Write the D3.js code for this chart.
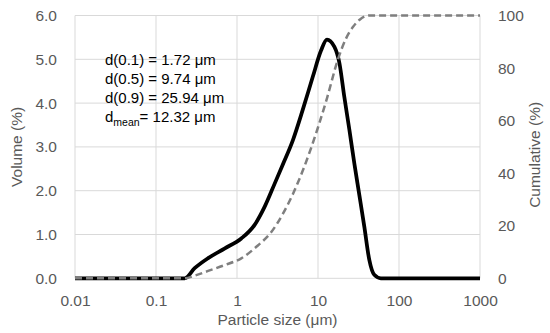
<!DOCTYPE html>
<html><head><meta charset="utf-8">
<script src="https://cdn.jsdelivr.net/npm/d3@7"></script>
<style>html,body{margin:0;padding:0;background:#fff;}svg{display:block;}</style>
</head><body>
<script>
// Particle size (µm) and volume (%)
const volSizes = [0.01, 0.226, 0.30, 0.44, 0.70, 1.13, 1.65, 2.19, 2.9, 3.68, 4.89, 6.49, 8.62, 10.9, 12.9, 15.9, 18.4, 21.1, 24.4, 28.1, 32.4, 37.3, 43.0, 49.5, 59.8, 1000];
const volValues = [0, 0, 0.23, 0.46, 0.68, 0.91, 1.22, 1.63, 2.15, 2.6, 3.15, 3.85, 4.6, 5.2, 5.45, 5.29, 4.91, 4.15, 3.39, 2.62, 1.9, 1.18, 0.42, 0.08, 0, 0];
// Particle size (µm) and cumulative (%)
const cumSizes = [0.01, 0.226, 0.30, 0.44, 0.70, 1.13, 1.81, 2.64, 3.68, 4.89, 6.49, 9.9, 12.9, 17.5, 22.0, 26.8, 33.0, 43.0, 1000];
const cumValues = [0, 0, 1.0, 2.8, 5.0, 7.6, 12.5, 17.5, 24.5, 32, 41, 57, 68.5, 83, 91, 95.5, 98.5, 100, 100];
const xTicks = [0.01, 0.1, 1, 10, 100, 1000];
const xTickLabels = ["0.01", "0.1", "1", "10", "100", "1000"];
const yTicks = [0, 1, 2, 3, 4, 5, 6];
const y2Ticks = [0, 20, 40, 60, 80, 100];
const statLines = [
  {lbl: "d(0.1)", sub: "", val: " = 1.72 μm"},
  {lbl: "d(0.5)", sub: "", val: " = 9.74 μm"},
  {lbl: "d(0.9)", sub: "", val: " = 25.94 μm"},
  {lbl: "d", sub: "mean", val: "= 12.32 μm"}
];

const W = 550, H = 333;
const m = {left: 75, right: 70, top: 15.5, bottom: 54.7};
const svg = d3.select("body").append("svg").attr("width", W).attr("height", H);
const font = "'Liberation Sans', Arial, sans-serif";
const gray = "#595959";

const x = d3.scaleLog().domain([0.01, 1000]).range([m.left, W - m.right]);
const y = d3.scaleLinear().domain([0, 6]).range([H - m.bottom, m.top]);
const y2 = d3.scaleLinear().domain([0, 100]).range([H - m.bottom, m.top]);

// grid
const g = svg.append("g");
g.selectAll("line.h").data(yTicks).enter().append("line")
  .attr("x1", m.left).attr("x2", W - m.right)
  .attr("y1", d => y(d)).attr("y2", d => y(d))
  .attr("stroke", "#d9d9d9").attr("stroke-width", 1);
g.selectAll("line.v").data(xTicks).enter().append("line")
  .attr("x1", d => x(d)).attr("x2", d => x(d))
  .attr("y1", m.top).attr("y2", H - m.bottom)
  .attr("stroke", "#d9d9d9").attr("stroke-width", 1);

// axes (labels only)
const ax = d3.axisBottom(x).tickValues(xTicks).tickFormat((d, i) => xTickLabels[i]).tickSize(0).tickPadding(0);
const axG = svg.append("g").attr("transform", `translate(0,${H - m.bottom})`).call(ax);
axG.select(".domain").remove();
axG.selectAll("text").attr("y", 28).attr("dy", null).attr("font-size", 15.5).attr("font-family", font).attr("fill", gray);

const ayl = d3.axisLeft(y).tickValues(yTicks).tickFormat(d3.format(".1f")).tickSize(0).tickPadding(0);
const aylG = svg.append("g").attr("transform", `translate(${m.left},0)`).call(ayl);
aylG.select(".domain").remove();
aylG.selectAll("text").attr("x", -18).attr("font-size", 15.5).attr("font-family", font).attr("fill", gray);

const ayr = d3.axisRight(y2).tickValues(y2Ticks).tickSize(0).tickPadding(0);
const ayrG = svg.append("g").attr("transform", `translate(${W - m.right},0)`).call(ayr);
ayrG.select(".domain").remove();
ayrG.selectAll("text").attr("x", 18).attr("font-size", 15.5).attr("font-family", font).attr("fill", gray);

// axis titles
svg.append("text").attr("x", (m.left + W - m.right) / 2).attr("y", 324.5)
  .attr("text-anchor", "middle").attr("font-size", 15.5).attr("font-family", font).attr("fill", gray)
  .text("Particle size (μm)");
svg.append("text").attr("transform", `translate(22,${(m.top + H - m.bottom) / 2}) rotate(-90)`)
  .attr("text-anchor", "middle").attr("font-size", 15.5).attr("font-family", font).attr("fill", gray)
  .text("Volume (%)");
svg.append("text").attr("transform", `translate(540,${(m.top + H - m.bottom) / 2 + 8}) rotate(-90)`)
  .attr("text-anchor", "middle").attr("font-size", 15.5).attr("font-family", font).attr("fill", gray)
  .text("Cumulative (%)");

// curves
const volData = volSizes.map((s, i) => [s, volValues[i]]);
const cumData = cumSizes.map((s, i) => [s, cumValues[i]]);
const lineV = d3.line().x(d => x(d[0])).y(d => y(d[1])).curve(d3.curveMonotoneX);
const lineC = d3.line().x(d => x(d[0])).y(d => y2(d[1])).curve(d3.curveMonotoneX);
svg.append("path").datum(volData).attr("d", lineV)
  .attr("fill", "none").attr("stroke", "#000").attr("stroke-width", 3.75).attr("stroke-linejoin", "round");
svg.append("path").datum(cumData).attr("d", lineC)
  .attr("fill", "none").attr("stroke", "#7f7f7f").attr("stroke-width", 2.5).attr("stroke-dasharray", "7,4");

// statistics text
const st = svg.append("g");
statLines.forEach((s, i) => {
  const t = st.append("text").attr("x", 105).attr("y", 65 + i * 19)
    .attr("font-size", 15).attr("font-family", font).attr("fill", "#000");
  t.append("tspan").text(s.lbl);
  if (s.sub) {
    t.append("tspan").attr("font-size", 10.5).attr("dy", 4).text(s.sub);
    t.append("tspan").attr("dy", -4).text(s.val);
  } else {
    t.append("tspan").text(s.val);
  }
});
</script>
</body></html>
